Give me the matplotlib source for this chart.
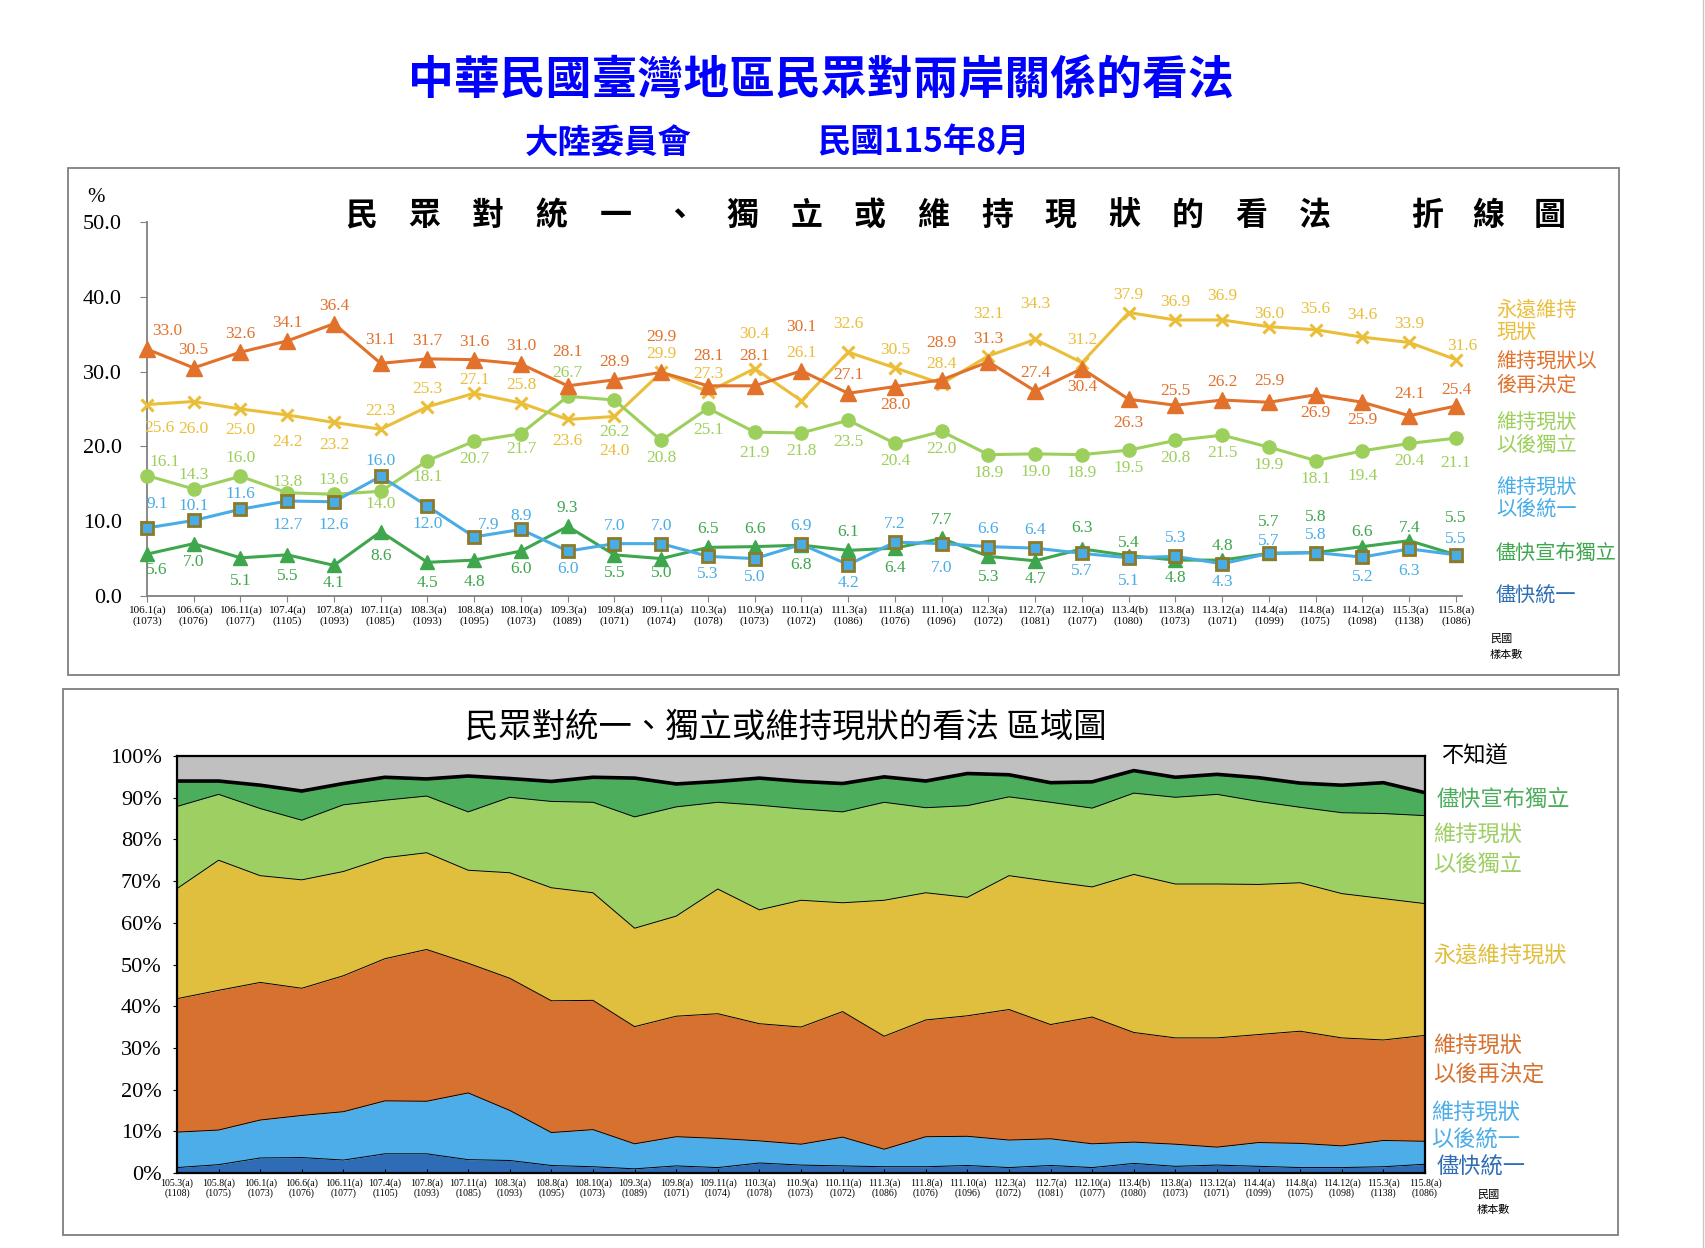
import matplotlib
matplotlib.use('Agg')
import matplotlib.pyplot as plt
from matplotlib.lines import Line2D
from matplotlib.patches import Rectangle
import numpy as np

plt.rcParams['font.family'] = ['Liberation Serif', 'Noto Sans CJK TC', 'DejaVu Sans']
CJK = ['Noto Sans CJK TC', 'DejaVu Sans']
SERIF = ['Liberation Serif', 'DejaVu Serif']

# ---------------- data ----------------
periods_top = ['106.1(a)', '106.6(a)', '106.11(a)', '107.4(a)', '107.8(a)', '107.11(a)',
               '108.3(a)', '108.8(a)', '108.10(a)', '109.3(a)', '109.8(a)', '109.11(a)',
               '110.3(a)', '110.9(a)', '110.11(a)', '111.3(a)', '111.8(a)', '111.10(a)',
               '112.3(a)', '112.7(a)', '112.10(a)', '113.4(b)', '113.8(a)', '113.12(a)',
               '114.4(a)', '114.8(a)', '114.12(a)', '115.3(a)', '115.8(a)']
samples_top = [1073, 1076, 1077, 1105, 1093, 1085, 1093, 1095, 1073, 1089, 1071, 1074,
               1078, 1073, 1072, 1086, 1076, 1096, 1072, 1081, 1077, 1080, 1073, 1071,
               1099, 1075, 1098, 1138, 1086]

# 維持現狀以後再決定
later_decide = [33.0, 30.5, 32.6, 34.1, 36.4, 31.1, 31.7, 31.6, 31.0, 28.1, 28.9, 29.9,
                28.1, 28.1, 30.1, 27.1, 28.0, 28.9, 31.3, 27.4, 30.4, 26.3, 25.5, 26.2,
                25.9, 26.9, 25.9, 24.1, 25.4]
# 永遠維持現狀
forever_status = [25.6, 26.0, 25.0, 24.2, 23.2, 22.3, 25.3, 27.1, 25.8, 23.6, 24.0, 29.9,
                  27.3, 30.4, 26.1, 32.6, 30.5, 28.4, 32.1, 34.3, 31.2, 37.9, 36.9, 36.9,
                  36.0, 35.6, 34.6, 33.9, 31.6]
# 維持現狀以後獨立
later_indep = [16.1, 14.3, 16.0, 13.8, 13.6, 14.0, 18.1, 20.7, 21.7, 26.7, 26.2, 20.8,
               25.1, 21.9, 21.8, 23.5, 20.4, 22.0, 18.9, 19.0, 18.9, 19.5, 20.8, 21.5,
               19.9, 18.1, 19.4, 20.4, 21.1]
# 維持現狀以後統一
later_unif = [9.1, 10.1, 11.6, 12.7, 12.6, 16.0, 12.0, 7.9, 8.9, 6.0, 7.0, 7.0,
              5.3, 5.0, 6.9, 4.2, 7.2, 7.0, 6.6, 6.4, 5.7, 5.1, 5.3, 4.3,
              5.7, 5.8, 5.2, 6.3, 5.5]
# 儘快宣布獨立
asap_indep = [5.6, 7.0, 5.1, 5.5, 4.1, 8.6, 4.5, 4.8, 6.0, 9.3, 5.5, 5.0,
              6.5, 6.6, 6.8, 6.1, 6.4, 7.7, 5.3, 4.7, 6.3, 5.4, 4.8, 4.8,
              5.7, 5.8, 6.6, 7.4, 5.5]

# area chart: two earlier surveys + 儘快統一
periods_early = ['105.3(a)', '105.8(a)']
samples_early = [1108, 1075]
early_asap_unif = [1.3, 2.0]
early_later_unif = [8.5, 8.3]
early_later_decide = [32.0, 33.5]
early_forever = [26.4, 31.2]
early_later_indep = [19.7, 15.8]
early_asap_indep = [6.1, 3.2]
asap_unif_top = [3.6, 3.7, 3.1, 4.6, 4.6, 3.2, 3.0, 1.8, 1.5, 1.0, 1.7, 1.3,
                 2.4, 1.9, 1.7, 1.5, 1.5, 1.8, 1.3, 1.8, 1.3, 2.3, 1.6, 1.9,
                 1.6, 1.3, 1.3, 1.5, 2.1]

# ---------------- styles ----------------
C_ORANGE = '#E2712B'
C_YELLOW = '#EBBE3A'
C_LGREEN = '#9CCF5B'
C_BLUE = '#48ADE6'
C_GREEN = '#3EA64D'
C_DBLUE = '#2E6DB5'
C_SQ_EDGE = '#8C7A26'

A_DBLUE = '#2E6DB5'
A_BLUE = '#4DADE8'
A_ORANGE = '#D67130'
A_YELLOW = '#E0BE3E'
A_LGREEN = '#9ECF62'
A_GREEN = '#4CAE5C'
A_GRAY = '#C0C0C0'

W, H = 1706, 1248
fig = plt.figure(figsize=(W / 100, H / 100), dpi=100)
fig.patch.set_facecolor('white')


def fx(px):
    return px / W


def fy(py):
    return 1 - py / H


def ftext(x, y, s, **kw):
    fig.text(fx(x), fy(y), s, **kw)


# ---------------- headings ----------------
ftext(821, 82, '中華民國臺灣地區民眾對兩岸關係的看法', ha='center', va='center',
      fontsize=33, fontweight='bold', color='#0000FF', family=CJK)
ftext(608, 143, '大陸委員會', ha='center', va='center', fontsize=24,
      fontweight='bold', color='#0000FF', family=CJK)
ftext(923, 143, '民國115年8月', ha='center', va='center', fontsize=24,
      fontweight='bold', color='#0000FF', family=CJK)

# panel frames
fig.add_artist(Rectangle((fx(68), fy(675)), fx(1619) - fx(68), fy(168) - fy(675),
                         transform=fig.transFigure, fill=False, edgecolor='#7f7f7f', lw=1.3))
fig.add_artist(Rectangle((fx(63), fy(1235)), fx(1618) - fx(63), fy(689) - fy(1235),
                         transform=fig.transFigure, fill=False, edgecolor='#7f7f7f', lw=1.3))
fig.add_artist(Line2D([fx(1703), fx(1703)], [0, 1], transform=fig.transFigure,
                      color='#c8c8c8', lw=1.0))

# ---------------- top line chart ----------------
n_top = len(periods_top)
x_top = np.arange(n_top)
ax1 = fig.add_axes([fx(147), fy(596), (1462 - 147) / W, (596 - 222) / H])
ax1.set_xlim(0, (n_top - 1) * (1462 - 147) / (1456 - 147))
ax1.set_ylim(0, 50)
for s in ['top', 'right']:
    ax1.spines[s].set_visible(False)
for s in ['left', 'bottom']:
    ax1.spines[s].set_color('#808080')
    ax1.spines[s].set_linewidth(1.3)
ax1.set_yticks(np.arange(0, 51, 10))
ax1.set_yticklabels([f'{v:.1f}' for v in np.arange(0, 51, 10)], fontsize=16, family=SERIF)
ax1.set_xticks(x_top)
ax1.set_xticklabels([f'{p}\n({s})' for p, s in zip(periods_top, samples_top)],
                    fontsize=8.1, family=SERIF, linespacing=1.1)
ax1.tick_params(axis='y', direction='out', length=5, color='#808080', pad=13)
ax1.tick_params(axis='x', direction='out', length=4, color='#808080', pad=3)
ax1.patch.set_alpha(0)

lw = 2.2
ax1.plot(x_top, forever_status, color=C_YELLOW, lw=lw, marker='x', ms=9, mew=2.2,
         clip_on=False, zorder=3)
ax1.plot(x_top, later_indep, color=C_LGREEN, lw=lw, marker='o', ms=9.5,
         clip_on=False, zorder=4)
ax1.plot(x_top, later_decide, color=C_ORANGE, lw=lw, marker='^', ms=11,
         clip_on=False, zorder=5)
ax1.plot(x_top, asap_indep, color=C_GREEN, lw=lw, marker='^', ms=9.5,
         clip_on=False, zorder=6)
ax1.plot(x_top, later_unif, color=C_BLUE, lw=lw, marker='s', ms=9, mfc=C_BLUE,
         mec=C_SQ_EDGE, mew=2, clip_on=False, zorder=7)

# label placement (a = above, b = below) and special distances in pixels
pos_orange = list('aaaaaaaaaaaaaaaa' 'b' 'aaa' 'bb' 'aaa' 'bb' 'aa')
pos_yellow = list('bbbbb' 'aaaa' 'bb' 'aaaaaaaaaaaaaaaaaa')
pos_lgreen = list('aaaaa' 'bbbb' 'a' 'bbbbbbbbbbbbbbbbbbb')
pos_blue = list('aaa' 'bb' 'a' 'b' 'aa' 'b' 'aa' 'bb' 'a' 'b' 'a' 'b' 'aa' 'bb' 'a' 'b' 'aa' 'bb' 'a')
pos_green = list('bbbbbbbbb' 'a' 'bb' 'aa' 'b' 'a' 'b' 'a' 'bb' 'aa' 'b' 'aaaaaa')

d_orange = {5: 23, 9: 34, 11: 35, 12: 30, 13: 30, 14: 44, 17: 37, 18: 23, 21: 24,
            22: 14, 24: 21, 27: 22, 28: 16}
d_yellow = {0: 23, 1: 27, 2: 21, 3: 27, 4: 23, 7: 13, 9: 22, 10: 35, 13: 35, 14: 48,
            15: 28, 17: 20, 18: 42, 19: 35, 20: 23, 23: 24, 24: 13, 25: 21, 26: 22,
            28: 14}
d_lgreen = {0: 14, 1: 14, 3: 11, 4: 14, 5: 13, 6: 16, 8: 15, 9: 23, 10: 32, 12: 22,
            13: 21, 15: 22, 26: 25, 28: 25}
d_blue = {0: 24, 1: 14, 2: 15, 3: 24, 4: 23, 5: 15, 7: 12, 8: 13, 17: 24, 21: 23,
          24: 12, 26: 20, 27: 22, 28: 16}
d_green = {0: 16, 2: 23, 3: 21, 5: 24, 6: 21, 7: 22, 11: 14, 14: 20, 16: 20, 18: 21,
           20: 21, 21: 13, 23: 14, 24: 31, 25: 36, 26: 15, 27: 13, 28: 37}
dx_first = {'orange': 20, 'yellow': 12, 'lgreen': 18, 'blue': 10, 'green': 10}


def put_labels(vals, pos, dists, color, key):
    for i, v in enumerate(vals):
        d = dists.get(i, 18)
        sign = 1 if pos[i] == 'a' else -1
        dx = dx_first[key] if i == 0 else 0
        if key == 'blue' and i == 7:
            dx = 14
        if key == 'yellow' and i == 28:
            dx = 6
        ax1.annotate(f'{v:.1f}', (i, v), xytext=(dx, sign * d), textcoords='offset pixels',
                     ha='center', va='center', color=color, fontsize=12.5,
                     family=SERIF, annotation_clip=False, zorder=10)


put_labels(later_decide, pos_orange, d_orange, C_ORANGE, 'orange')
put_labels(forever_status, pos_yellow, d_yellow, C_YELLOW, 'yellow')
put_labels(later_indep, pos_lgreen, d_lgreen, C_LGREEN, 'lgreen')
put_labels(later_unif, pos_blue, d_blue, C_BLUE, 'blue')
put_labels(asap_indep, pos_green, d_green, C_GREEN, 'green')

# top chart title (spaced characters)
title_chars = '民眾對統一、獨立或維持現狀的看法'
for k, ch in enumerate(title_chars):
    ftext(361 + k * 63.6, 216, ch, ha='center', va='center', fontsize=23,
          fontweight='bold', color='black', family=CJK)
for k, ch in enumerate('折線圖'):
    ftext(1427 + k * 61.5, 216, ch, ha='center', va='center', fontsize=23,
          fontweight='bold', color='black', family=CJK)
ftext(96, 198, '%', ha='center', va='center', fontsize=15, family=SERIF)

# top legend labels
top_leg = [('永遠維持', 310, C_YELLOW), ('現狀', 332, C_YELLOW),
           ('維持現狀以', 362, C_ORANGE), ('後再決定', 385, C_ORANGE),
           ('維持現狀', 423, C_LGREEN), ('以後獨立', 445, C_LGREEN),
           ('維持現狀', 488, C_BLUE), ('以後統一', 509, C_BLUE),
           ('儘快宣布獨立', 553, C_GREEN), ('儘快統一', 595, C_DBLUE)]
for s, y, c in top_leg:
    ftext(1496, y, s, ha='left', va='center', fontsize=14.5, color=c, family=CJK)
ftext(1490, 639, '民國', ha='left', va='center', fontsize=8, family=CJK)
ftext(1490, 655, '樣本數', ha='left', va='center', fontsize=8, family=CJK)

# ---------------- bottom area chart ----------------
periods_all = periods_early + periods_top
samples_all = samples_early + samples_top
layers = [
    early_asap_unif + asap_unif_top,
    early_later_unif + later_unif,
    early_later_decide + later_decide,
    early_forever + forever_status,
    early_later_indep + later_indep,
    early_asap_indep + asap_indep,
]
layer_colors = [A_DBLUE, A_BLUE, A_ORANGE, A_YELLOW, A_LGREEN, A_GREEN]
n_all = len(periods_all)
x_all = np.arange(n_all)

ax2 = fig.add_axes([fx(177), fy(1173), (1425 - 177) / W, (1173 - 756) / H])
ax2.set_xlim(0, n_all - 1)
ax2.set_ylim(0, 100)
base = np.zeros(n_all)
for vals, col in zip(layers, layer_colors):
    top = base + np.array(vals)
    ax2.fill_between(x_all, base, top, color=col, lw=0, zorder=1)
    base = top
ax2.fill_between(x_all, base, 100, color=A_GRAY, lw=0, zorder=1)
cum = np.cumsum(np.array(layers), axis=0)
for k in range(len(layers) - 1):
    ax2.plot(x_all, cum[k], color='black', lw=0.7, zorder=2)
ax2.plot(x_all, cum[-1], color='black', lw=2.6, zorder=3, solid_joinstyle='miter')
for s in ax2.spines.values():
    s.set_color('black')
    s.set_linewidth(1.6)
    s.set_zorder(4)
ax2.set_yticks(np.arange(0, 101, 10))
ax2.set_yticklabels([f'{v}%' for v in range(0, 101, 10)], fontsize=16, family=SERIF)
ax2.set_xticks(x_all)
ax2.set_xticklabels([f'{p}\n({s})' for p, s in zip(periods_all, samples_all)],
                    fontsize=7.1, family=SERIF, linespacing=1.05)
ax2.tick_params(axis='y', direction='out', length=3, pad=8)
ax2.tick_params(axis='x', direction='in', length=3, pad=4)

ftext(786, 727, '民眾對統一、獨立或維持現狀的看法 區域圖', ha='center', va='center',
      fontsize=24, color='black', family=CJK)

bot_leg = [('不知道', 1441, 756, 'black'), ('儘快宣布獨立', 1437, 799, A_GREEN),
           ('維持現狀', 1433, 834, A_LGREEN), ('以後獨立', 1433, 864, A_LGREEN),
           ('永遠維持現狀', 1433, 956, A_YELLOW),
           ('維持現狀', 1433, 1045, A_ORANGE), ('以後再決定', 1433, 1075, A_ORANGE),
           ('維持現狀', 1431, 1112, A_BLUE), ('以後統一', 1431, 1140, A_BLUE),
           ('儘快統一', 1437, 1167, A_DBLUE)]
for s, x, y, c in bot_leg:
    ftext(x, y, s, ha='left', va='center', fontsize=16, color=c, family=CJK)
ftext(1477, 1195, '民國', ha='left', va='center', fontsize=8, family=CJK)
ftext(1477, 1210, '樣本數', ha='left', va='center', fontsize=8, family=CJK)

fig.savefig('out.png', dpi=100)
